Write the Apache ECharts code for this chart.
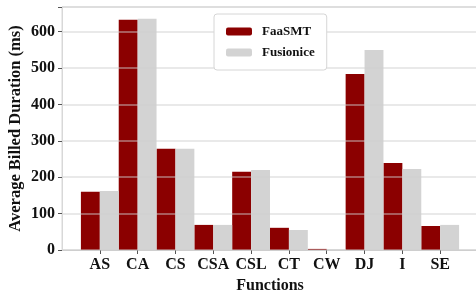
<!DOCTYPE html>
<html>
<head>
<meta charset="utf-8">
<script src="https://cdn.jsdelivr.net/npm/echarts@6/dist/echarts.min.js"></script>
<style>
	html, body { margin: 0; padding: 0; background: #fff; }
	#chart { width: 476px; height: 295px; }
</style>
</head>
<body>
<div id="chart"></div>
<script>
	// 数据
	var functions = ['AS', 'CA', 'CS', 'CSA', 'CSL', 'CT', 'CW', 'DJ', 'I', 'SE'];
	var faasmt = [160, 633, 278, 69, 215, 61, 3, 484, 239, 66];
	var fusionice = [162, 636, 278, 69, 220, 55, 1.5, 550, 223, 69];
	var yTicks = [0, 100, 200, 300, 400, 500, 600];

	// 两端留空位，和原图的边距一致
	var cats = [''].concat(functions, ['']);
	var pad = function (arr) { return [null].concat(arr, [null]); };

	var font = '"Liberation Serif", "Times New Roman", serif';
	var chart = echarts.init(document.getElementById('chart'));

	var option = {
		backgroundColor: '#fff',
		animation: false,
		textStyle: { fontFamily: font },
		grid: {
			left: 62, right: -2, top: 7, bottom: 45,
			outerBoundsMode: 'none', containLabel: false,
			show: true, borderColor: '#d8d8d8', borderWidth: 1
		},
		legend: {
			orient: 'vertical',
			left: 214, top: 14,
			padding: [11, 12, 11, 12],
			itemWidth: 26, itemHeight: 8, itemGap: 8,
			borderColor: '#d6d6d6', borderWidth: 1, borderRadius: 3,
			backgroundColor: '#fff',
			textStyle: { fontFamily: font, fontWeight: 'bold', fontSize: 13, color: '#111', padding: [0, 0, 0, 5] },
			data: ['FaaSMT', 'Fusionice']
		},
		xAxis: {
			type: 'category',
			data: cats,
			boundaryGap: false,
			name: 'Functions',
			nameLocation: 'middle',
			nameGap: 28,
			nameTextStyle: { fontFamily: font, fontWeight: 'bold', fontSize: 16, color: '#111' },
			axisLine: { lineStyle: { color: '#cfcfcf', width: 1 } },
			axisTick: {
				alignWithLabel: true, length: 4,
				lineStyle: { color: '#555' },
				interval: function (i, v) { return v !== ''; }
			},
			axisLabel: {
				interval: 0, margin: 7,
				fontFamily: font, fontWeight: 'bold', fontSize: 16, color: '#111'
			},
			splitLine: { show: false }
		},
		yAxis: {
			type: 'value',
			min: 0, max: 668, interval: 100,
			z: 3,
			name: 'Average Billed Duration (ms)',
			nameLocation: 'middle',
			nameGap: 38,
			nameMoveOverlap: false,
			nameTextStyle: { fontFamily: font, fontWeight: 'bold', fontSize: 16.5, color: '#111' },
			axisLine: { show: true, lineStyle: { color: '#d8d8d8' } },
			axisTick: { show: true, length: 4, lineStyle: { color: '#555' } },
			axisLabel: {
				margin: 7,
				fontFamily: font, fontWeight: 'bold', fontSize: 16, color: '#111',
				formatter: function (v) { return yTicks.indexOf(v) >= 0 ? String(v) : ''; }
			},
			splitLine: { lineStyle: { color: 'rgba(205,205,205,0.6)', width: 1.5 } }
		},
		series: [
			{
				name: 'FaaSMT', type: 'bar',
				data: pad(faasmt),
				barGap: '0%', barCategoryGap: '0%',
				itemStyle: { color: '#8b0000' }
			},
			{
				name: 'Fusionice', type: 'bar',
				data: pad(fusionice),
				barGap: '0%', barCategoryGap: '0%',
				itemStyle: { color: '#d3d3d3' }
			}
		]
	};
	chart.setOption(option);
</script>
</body>
</html>
